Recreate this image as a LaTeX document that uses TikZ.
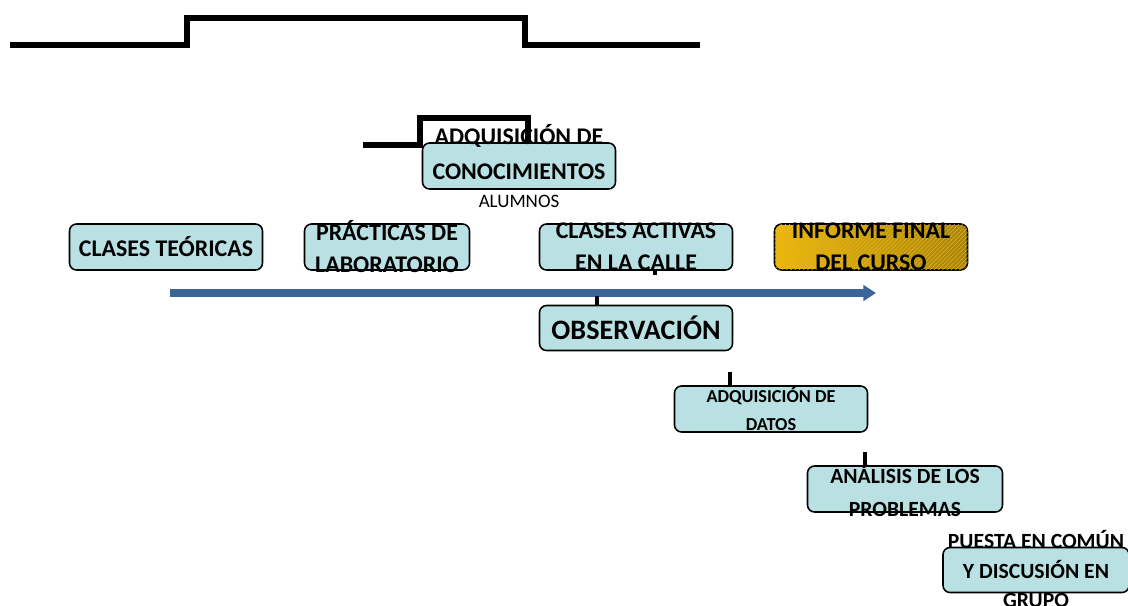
\documentclass[tikz,border=0pt]{standalone}
\usepackage{fontspec}
\setmainfont{Carlito}
\usetikzlibrary{arrows.meta, positioning, patterns}
\definecolor{BoxTeal}{HTML}{B9E0E3}
\definecolor{GoldLeft}{HTML}{F2B900}
\definecolor{GoldRight}{HTML}{A88300}
\definecolor{GoldLine}{HTML}{D8B040}
\definecolor{FlowBlue}{HTML}{3C6498}
\tikzset{
    % Box styles - rounded corners, fixed size
    stagebox/.style={
        rectangle,
        rounded corners=5,
        draw=black,
        fill=BoxTeal,
        line width=1.1pt,
        minimum width=193*0.025cm,
        minimum height=46*0.025cm,
        inner sep=0pt
    },
    goldbox/.style={
        stagebox,
        left color=GoldLeft,
        right color=GoldRight,
        postaction={pattern=north east lines, pattern color=GoldLine}
    },
    stagetext/.style={
        align=center,
        inner sep=0pt,
        font=\bfseries\fontsize{17}{22.8}\selectfont
    },
    % Line styles
    bracket/.style={
        line width=3.6pt,
        draw=black
    },
    tick/.style={
        line width=2.8pt,
        draw=black
    },
    flowarrow/.style={
        -{Triangle[length=9pt, width=11pt]},
        line width=5pt,
        draw=FlowBlue
    }
}
\begin{document}
\begin{tikzpicture}[x=0.025cm, y=-0.025cm]
    \useasboundingbox (0,0) rectangle (1128,605);

    % brackets at the top
    \draw[bracket] (10,45) -- (187,45) -- (187,18) -- (525,18) -- (525,45) -- (700,45);
    \draw[tick] (352,18) -- (362,18);
    \draw[bracket] (363,145) -- (420,145) -- (420,118) -- (528,118) -- (528,143);
    \draw[tick] (471,118) -- (479,118);

    % knowledge box
    \node[stagebox] (conoc) at (519,166) {};
    \node[stagetext, font=\bfseries\fontsize{17}{25}\selectfont] (conoctxt) at (519,152) {ADQUISICIÓN DE\\CONOCIMIENTOS};
    \node[font=\fontsize{13.5}{16}\selectfont, inner sep=0pt] (alumnos) at (519,201) {ALUMNOS};

    % activities row
    \node[stagebox] (teoria) at (166,247) {};
    \node[stagetext] (teoriatxt) at (teoria) {CLASES TEÓRICAS};
    \node[stagebox, minimum width=165*0.025cm] (lab) at (387,247) {};
    \node[stagetext] (labtxt) at (lab) {PRÁCTICAS DE\\LABORATORIO};
    \node[stagebox] (calle) at (636,247) {};
    \node[stagetext] (calletxt) at (calle) {CLASES ACTIVAS\\EN LA CALLE};
    \node[goldbox] (informe) at (871,247) {};
    \node[stagetext] (informetxt) at (informe) {INFORME FINAL\\DEL CURSO};

    % time arrow
    \coordinate (tstart) at (170,293);
    \coordinate (tend) at (876,293);
    \draw[flowarrow] (tstart) -- (tend);

    % steps of the street classes
    \node[stagebox, minimum height=45*0.025cm] (observ) at (636,328) {};
    \node[stagetext, font=\bfseries\fontsize{20}{24}\selectfont] (observtxt) at (observ) {OBSERVACIÓN};
    \node[stagebox] (datos) at (771,409) {};
    \node[stagetext, font=\bfseries\fontsize{13}{20}\selectfont] (datostxt) at (datos) {ADQUISICIÓN DE\\DATOS};
    \node[stagebox, minimum width=195*0.025cm] (analisis) at (905,489) {};
    \node[stagetext, font=\bfseries\fontsize{15.4}{22.8}\selectfont] (analisistxt) at (905,491) {ANÁLISIS DE LOS\\PROBLEMAS};
    \node[stagebox, minimum width=186*0.025cm, minimum height=45*0.025cm] (puesta) at (1036,570) {};
    \node[stagetext, font=\bfseries\fontsize{15.4}{21.3}\selectfont] (puestatxt) at (1036,569) {PUESTA EN COMÚN\\Y DISCUSIÓN EN\\GRUPO};

    % short stubs
    \coordinate (s1) at (655,264);
    \draw[tick] (calle.south -| s1) -- (s1 |- 0,275);
    \coordinate (s2) at (597,296);
    \draw[tick] (s2) -- (s2 |- observ.north);
    \coordinate (s3) at (730,372);
    \draw[tick] (s3) -- (s3 |- datos.north);
    \coordinate (s4) at (865,452);
    \draw[tick] (s4) -- (s4 |- analisis.north);
\end{tikzpicture}
\end{document}
